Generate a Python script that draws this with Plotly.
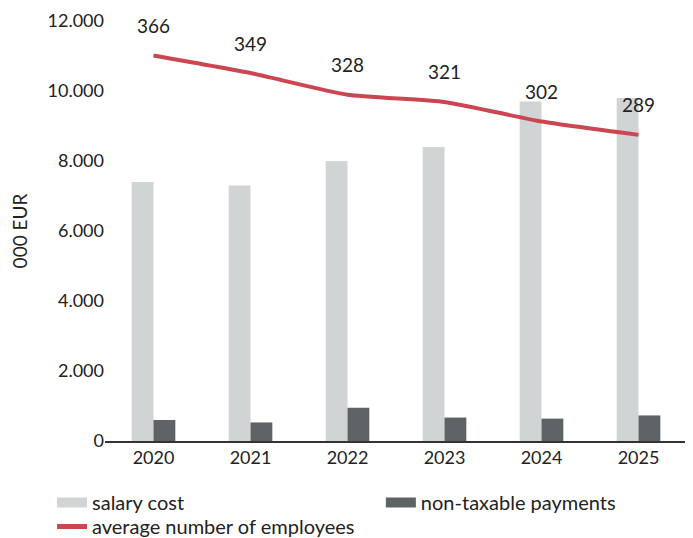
import plotly.graph_objects as go

years = ["2020", "2021", "2022", "2023", "2024", "2025"]
salary_cost = [7400, 7300, 8000, 8400, 9700, 9800]
non_taxable = [600, 530, 950, 670, 640, 730]
employees = [366, 349, 328, 321, 302, 289]

FONT = "Lato"
LIGHT = "#d0d4d5"
DARK = "#5e6366"
RED = "#cc4652"
TXT = "#222222"

fig = go.Figure()
fig.add_trace(go.Bar(x=years, y=salary_cost, name="salary cost", showlegend=False,
                     marker=dict(color=LIGHT, line=dict(width=0))))
fig.add_trace(go.Bar(x=years, y=non_taxable, name="non-taxable payments", showlegend=False,
                     marker=dict(color=DARK, line=dict(width=0))))
fig.add_trace(go.Scatter(x=years, y=employees, name="average number of employees",
                         mode="lines", yaxis="y2", showlegend=False,
                         line=dict(color=RED, width=4, shape="spline", smoothing=0.5)))

# legend entries (wide swatches like the reference)
fig.add_trace(go.Scatter(x=[None], y=[None], mode="lines", name="salary cost",
                         line=dict(color=LIGHT, width=11), legend="legend"))
fig.add_trace(go.Scatter(x=[None], y=[None], mode="lines", name="non-taxable payments",
                         line=dict(color=DARK, width=11), legend="legend2"))
fig.add_trace(go.Scatter(x=[None], y=[None], mode="lines", name="average number of employees",
                         line=dict(color=RED, width=5), legend="legend3"))

for i, v in enumerate(employees):
    fig.add_annotation(x=i, y=v, xref="x", yref="y2", text=str(v), showarrow=False,
                       yshift=30, font=dict(size=19, color=TXT, family=FONT))

leg_common = dict(orientation="v", xref="paper", yref="container", xanchor="left",
                  yanchor="top", font=dict(size=20, color=TXT), bgcolor="rgba(0,0,0,0)")

fig.update_layout(
    width=685, height=530,
    margin=dict(l=97, r=6, t=13, b=97, autoexpand=False),
    paper_bgcolor="white", plot_bgcolor="white",
    separators=",.",
    barmode="group", bargap=0.55, bargroupgap=0,
    font=dict(family=FONT, size=18, color=TXT),
    legend=dict(x=-0.091, y=0.1038, **leg_common),
    legend2=dict(x=0.474, y=0.1038, **leg_common),
    legend3=dict(x=-0.091, y=0.0585, **leg_common),
    xaxis=dict(type="category", range=[-0.5, 5.5], showline=True, linecolor="#333333",
               linewidth=1.5, ticks="", showgrid=False, tickfont=dict(size=18),
               automargin=False),
    yaxis=dict(range=[0, 12000], dtick=2000, tickformat=",d", showgrid=False,
               zeroline=False, showline=False, ticks="", tickfont=dict(size=18),
               automargin=False, ticklabeloverflow="allow",
               title=dict(text="000 EUR", font=dict(size=19), standoff=14)),
    yaxis2=dict(range=[-8, 399.5], overlaying="y", visible=False),
)
fig.write_html("out.html")
